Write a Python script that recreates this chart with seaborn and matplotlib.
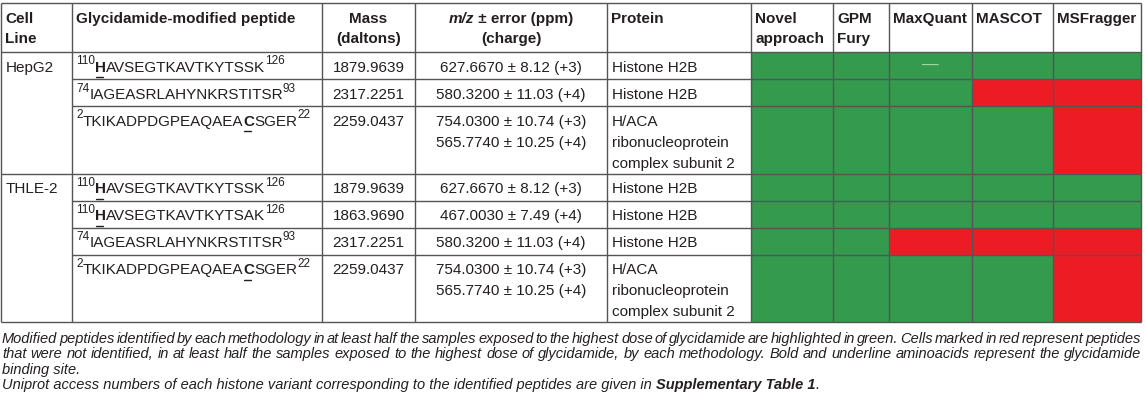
import numpy as np
import pandas as pd
import matplotlib
matplotlib.use('Agg')
import matplotlib.pyplot as plt
from matplotlib.colors import ListedColormap
import seaborn as sns

# ---- table content ----
cell_lines = ['HepG2', 'THLE-2']
cell_line_rows = [3, 4]

pep_start = [110, 74, 2, 110, 110, 74, 2]
pep_seq = ['HAVSEGTKAVTKYTSSK', 'IAGEASRLAHYNKRSTITSR', 'TKIKADPDGPEAQAEACSGER',
           'HAVSEGTKAVTKYTSSK', 'HAVSEGTKAVTKYTSAK', 'IAGEASRLAHYNKRSTITSR',
           'TKIKADPDGPEAQAEACSGER']
pep_end = [126, 93, 22, 126, 126, 93, 22]
binding_site = [0, None, 16, 0, 0, None, 16]   # residue shown bold + underlined

masses = ['1879.9639', '2317.2251', '2259.0437', '1879.9639', '1863.9690',
          '2317.2251', '2259.0437']
mz_values = [['627.6670 ± 8.12 (+3)'],
             ['580.3200 ± 11.03 (+4)'],
             ['754.0300 ± 10.74 (+3)', '565.7740 ± 10.25 (+4)'],
             ['627.6670 ± 8.12 (+3)'],
             ['467.0030 ± 7.49 (+4)'],
             ['580.3200 ± 11.03 (+4)'],
             ['754.0300 ± 10.74 (+3)', '565.7740 ± 10.25 (+4)']]
proteins = [['Histone H2B'], ['Histone H2B'],
            ['H/ACA', 'ribonucleoprotein', 'complex subunit 2'],
            ['Histone H2B'], ['Histone H2B'], ['Histone H2B'],
            ['H/ACA', 'ribonucleoprotein', 'complex subunit 2']]

methods = ['Novel\napproach', 'GPM\nFury', 'MaxQuant', 'MASCOT', 'MSFragger']
# 1 = identified (green), 0 = not identified (red)
identified = [[1, 1, 1, 1, 1],
              [1, 1, 1, 0, 0],
              [1, 1, 1, 1, 0],
              [1, 1, 1, 1, 1],
              [1, 1, 1, 1, 1],
              [1, 1, 0, 0, 0],
              [1, 1, 1, 1, 0]]
dash_cells = [(0, 2)]   # (row, method) with a dash

caption_lines = [
    'Modified peptides identified by each methodology in at least half the samples exposed to the highest dose of glycidamide are highlighted in green. Cells marked in red represent peptides',
    'that were not identified, in at least half the samples exposed to the highest dose of glycidamide, by each methodology. Bold and underline aminoacids represent the glycidamide',
    'binding site.',
]
caption_last = 'Uniprot access numbers of each histone variant corresponding to the identified peptides are given in '
caption_bold = 'Supplementary Table 1'

# ---- layout (pixels) ----
W, H = 1145, 410
col_x = [1, 72, 322, 415, 607, 751, 833, 889, 972, 1053, 1141]
head_top, head_bot = 4, 53
row_units = [2, 2, 5, 2, 2, 2, 5]
unit = 13.5
row_y = head_bot + unit * np.concatenate([[0], np.cumsum(row_units)])
pad = 4
line_gap = 21
green, red = '#349a4d', '#ed1c24'
txt_c = '#231f20'
grid_c = '#555555'
fs = 11

sns.set_style('white')
plt.rcParams['font.family'] = ['Liberation Sans', 'DejaVu Sans']

fig = plt.figure(figsize=(W / 100, H / 100), dpi=100)
fig.patch.set_facecolor('white')

# coloured method cells: one seaborn heatmap per method column
cmap = ListedColormap([red, green])
for k in range(len(methods)):
    col_vals = np.repeat([r[k] for r in identified], row_units)
    df = pd.DataFrame({methods[k]: col_vals})
    x0, x1 = col_x[5 + k], col_x[6 + k]
    axk = fig.add_axes([x0 / W, 1 - row_y[-1] / H, (x1 - x0) / W,
                        (row_y[-1] - row_y[0]) / H])
    sns.heatmap(df, ax=axk, cmap=cmap, vmin=0, vmax=1, cbar=False,
                xticklabels=False, yticklabels=False, linewidths=0)
    axk.set_xlabel('')
    axk.set_ylabel('')
    for (r, m) in dash_cells:
        if m == k:
            u = sum(row_units[:r]) + row_units[r] / 2
            axk.text(0.5, u - 0.1, '—', ha='center', va='center',
                     color='#a8d8a0', fontsize=fs + 1)

# overlay for text and rules
ov = fig.add_axes([0, 0, 1, 1])
ov.set_xlim(0, W)
ov.set_ylim(H, 0)
ov.axis('off')
ov.patch.set_alpha(0)
renderer = fig.canvas.get_renderer()


def text_width(s, **kw):
    t = ov.text(0, 0, 'x' + s + 'x', **kw)
    t2 = ov.text(0, 0, 'xx', **kw)
    w = t.get_window_extent(renderer).width - t2.get_window_extent(renderer).width
    t.remove()
    t2.remove()
    return w


def draw_runs(x, y, runs, ha='left'):
    widths = [text_width(s, **kw) for s, kw, dy in runs]
    if ha == 'center':
        x = x - sum(widths) / 2
    xs = []
    for (s, kw, dy), w in zip(runs, widths):
        ov.text(x, y + dy, s, ha='left', va='baseline', color=txt_c, **kw)
        xs.append((x, w))
        x += w
    return xs


norm = dict(fontsize=fs)
bold = dict(fontsize=fs, fontweight='bold')
sup = dict(fontsize=8.5)

# rules
lw = 1.0
ov.hlines([head_top, head_bot, row_y[-1]], col_x[0], col_x[-1], color=grid_c, lw=lw)
ov.vlines(col_x, head_top, row_y[-1], color=grid_c, lw=lw)
group_edges = np.cumsum(cell_line_rows)[:-1]
for i in range(1, len(row_units)):
    x_start = col_x[0] if i in group_edges else col_x[1]
    ov.hlines(row_y[i], x_start, col_x[-1], color=grid_c, lw=lw)

# header
hb1, hb2 = 23, 43
headers = ['Cell\nLine', 'Glycidamide-modified peptide', 'Mass\n(daltons)', None,
           'Protein'] + methods
for j, h in enumerate(headers):
    if h is None:
        continue
    parts = h.split('\n')
    for li, p in enumerate(parts):
        yb = hb1 + li * 20
        if j == 2:
            ov.text((col_x[j] + col_x[j + 1]) / 2, yb, p, ha='center',
                    va='baseline', color=txt_c, **bold)
        else:
            ov.text(col_x[j] + pad, yb, p, ha='left', va='baseline',
                    color=txt_c, **bold)
mz_mid = (col_x[3] + col_x[4]) / 2
draw_runs(mz_mid, hb1, [('m/z', dict(fontsize=fs, fontweight='bold', fontstyle='italic'), 0),
                        (' ± error (ppm)', bold, 0)], ha='center')
ov.text(mz_mid, hb2, '(charge)', ha='center', va='baseline', color=txt_c, **bold)

# cell lines
r0 = 0
for name, n in zip(cell_lines, cell_line_rows):
    ov.text(col_x[0] + pad + 1, row_y[r0] + 19, name, ha='left', va='baseline',
            color=txt_c, **norm)
    r0 += n

# body rows
for i in range(len(pep_seq)):
    yb = row_y[i] + 19
    seq, b = pep_seq[i], binding_site[i]
    runs = [(str(pep_start[i]), sup, -7.5)]
    if b is None:
        runs.append((seq, norm, 0))
    else:
        if b > 0:
            runs.append((seq[:b], norm, 0))
        runs.append((seq[b], bold, 0))
        runs.append((seq[b + 1:], norm, 0))
    runs.append((str(pep_end[i]), sup, -7.5))
    placed = draw_runs(col_x[1] + pad, yb, runs)
    if b is not None:
        bx, bw = placed[2] if b > 0 else placed[1]
        ov.plot([bx + 1, bx + bw * 0.75], [yb + 6, yb + 6], color=txt_c, lw=1.0)

    ov.text((col_x[2] + col_x[3]) / 2, yb, masses[i], ha='center', va='baseline',
            color=txt_c, **norm)
    for li, s in enumerate(mz_values[i]):
        ov.text(mz_mid, yb + li * line_gap, s, ha='center', va='baseline',
                color=txt_c, **norm)
    for li, s in enumerate(proteins[i]):
        ov.text(col_x[4] + pad + 1, yb + li * line_gap, s, ha='left', va='baseline',
                color=txt_c, **norm)

# caption
cap_fs = 10.5
cap = dict(fontsize=cap_fs, fontstyle='italic')
cap_b = dict(fontsize=cap_fs, fontstyle='italic', fontweight='bold')
cap_y = [343, 358.5, 373.8, 389]
left, right = col_x[0] + 1, col_x[-1]
for li, line in enumerate(caption_lines):
    words = line.split(' ')
    if li < 2:
        ws = [text_width(w, **cap) for w in words]
        gap = (right - left - sum(ws)) / (len(words) - 1)
        x = left
        for w, wd in zip(words, ws):
            ov.text(x, cap_y[li], w, ha='left', va='baseline', color=txt_c, **cap)
            x += wd + gap
    else:
        ov.text(left, cap_y[li], line, ha='left', va='baseline', color=txt_c, **cap)
draw_runs(left, cap_y[3], [(caption_last, cap, 0), (caption_bold, cap_b, 0), ('.', cap, 0)])

fig.savefig('out.png', dpi=100, facecolor='white')
